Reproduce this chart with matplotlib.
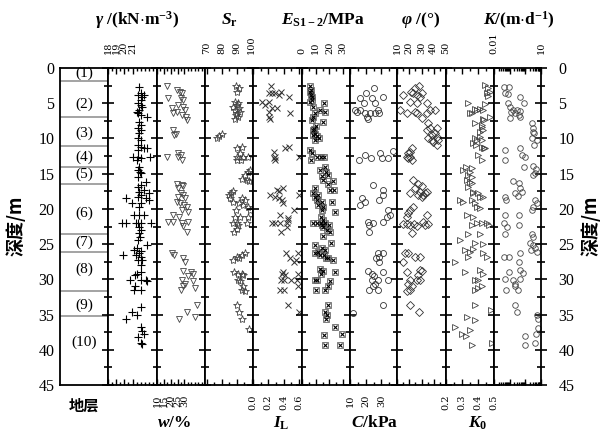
import numpy as np
import matplotlib
matplotlib.use("Agg")
import matplotlib.pyplot as plt
from matplotlib.ticker import FixedLocator, MultipleLocator, LogLocator, NullFormatter

plt.rcParams['font.family'] = ['Liberation Serif', 'DejaVu Serif']
plt.rcParams['mathtext.fontset'] = 'custom'
plt.rcParams['mathtext.rm'] = 'Liberation Serif:bold'
plt.rcParams['mathtext.it'] = 'Liberation Serif:italic:bold'
plt.rcParams['mathtext.bf'] = 'Liberation Serif:bold'

# ---- data (depth in m) ----
layer_names = ['(1)', '(2)', '(3)', '(4)', '(5)', '(6)', '(7)', '(8)', '(9)', '(10)']
layer_label_depth = [0.8, 5.2, 9.2, 12.6, 15.1, 20.6, 24.8, 28.6, 33.7, 39.0]
layer_bounds = [1.8, 6.9, 11.1, 14.0, 16.4, 23.5, 26.1, 31.6, 35.2]

gamma_d = [2.65, 3.6, 3.84, 3.84, 4.07, 4.54, 5.02, 5.25, 5.49, 5.96, 6.2, 6.44, 6.67, 6.91, 7.62, 8.1,
           8.57, 8.8, 9.27, 9.98, 10.22, 10.93, 11.17, 11.4, 11.4, 11.64, 12.59, 12.59, 12.82, 12.59,
           13.06, 14.0, 14.48, 14.71, 14.95, 15.42, 16.13, 16.6, 16.84, 17.32, 17.55, 18.0, 17.79,
           18.26, 18.5, 18.5, 19.21, 19.21, 18.74, 19.68, 20.86, 20.86, 20.86, 22.05, 22.05, 22.05,
           22.05, 22.05, 22.05, 22.52, 23.0, 23.47, 24.0, 24.4, 25.1, 25.6, 25.8, 26.0, 26.2, 26.5,
           26.5, 26.8, 27.3, 27.3, 27.9, 29.0, 29.2, 29.4, 30.1, 30.1, 30.1, 30.3, 31.0, 31.5, 31.5,
           33.9, 34.6, 35.1, 35.7, 36.8, 37.3, 37.7, 38.2, 39.0, 39.2]
gamma_v = [21.8, 22.0, 22.4, 21.67, 22.2, 22.0, 21.67, 22.0, 22.2, 21.8, 21.5, 21.67, 22.0, 22.75, 21.8,
           22.0, 21.67, 22.0, 21.8, 21.67, 22.0, 21.67, 22.0, 22.4, 22.8, 21.67, 21.08, 21.67, 22.0,
           23.1, 21.5, 21.8, 21.67, 21.9, 22.1, 21.67, 22.6, 22.0, 21.67, 22.4, 21.8, 22.1, 23.0,
           21.67, 22.6, 20.25, 20.96, 22.0, 23.0, 21.8, 21.17, 21.8, 22.4, 19.7, 20.25, 21.4, 21.67,
           22.0, 23.25, 21.8, 22.0, 21.8, 21.9, 21.67, 22.8, 21.6, 21.17, 22.0, 21.8, 19.83, 21.4,
           22.0, 21.67, 22.2, 22.0, 22.0, 21.5, 21.3, 20.67, 22.0, 22.6, 22.8, 21.3, 21.17, 22.0,
           22.0, 20.9, 21.5, 20.25, 22.0, 22.2, 22.4, 21.67, 22.0, 22.2]

w_d = [2.5, 3.1, 3.4, 3.6, 4.3, 4.5, 4.3, 5.2, 5.5, 5.7, 6.0, 6.2, 6.4, 6.7, 6.9, 7.4, 8.8, 9.3, 9.5,
       12.0, 12.3, 12.6, 12.6, 13.1, 16.4, 16.6, 16.8, 17.1, 17.8, 18.0, 18.3, 18.5, 19.0, 19.2,
       19.5, 19.7, 20.2, 20.4, 20.9, 21.1, 21.9, 21.9, 22.0, 21.9, 22.4, 23.3, 26.3, 26.5, 27.0,
       27.5, 28.8, 29.0, 29.2, 29.5, 30.1, 30.3, 30.6, 31.0, 31.3, 31.5, 33.6, 34.6, 35.3, 35.7]
w_v = [17.1, 24.3, 26.8, 28.0, 27.3, 29.2, 18.3, 25.5, 29.2, 20.7, 30.4, 24.3, 21.9, 28.0, 31.1, 31.6,
       21.4, 23.8, 22.4, 25.5, 27.3, 17.1, 25.5, 28.0, 24.3, 28.0, 29.2, 25.5, 27.3, 29.2, 25.5,
       30.4, 24.3, 26.8, 29.7, 31.6, 28.0, 32.8, 21.9, 26.3, 18.3, 21.9, 28.0, 32.3, 29.2, 31.6,
       20.7, 22.4, 29.2, 30.4, 29.2, 34.6, 36.5, 32.8, 28.0, 36.0, 30.4, 29.2, 37.7, 27.3, 38.9,
       32.1, 37.7, 26.3]

sr_d = [2.6, 2.85, 3.4, 4.8, 5.0, 5.25, 5.5, 5.7, 6.0, 6.2, 6.4, 6.7, 6.9, 7.2, 9.3, 9.6, 9.9, 11.2,
        11.4, 12.1, 12.6, 12.6, 12.6, 13.1, 13.1, 14.5, 14.7, 15.2, 15.7, 15.9, 16.1, 17.5, 17.8,
        18.0, 18.5, 18.5, 18.7, 19.0, 19.2, 19.5, 19.7, 20.2, 20.2, 21.1, 21.1, 21.1, 22.0, 22.0,
        22.0, 22.3, 22.8, 23.3, 26.3, 26.5, 26.8, 27.3, 27.0, 28.9, 29.2, 29.2, 29.4, 30.1, 30.3,
        31.0, 31.5, 31.7, 33.7, 34.7, 35.7, 37.0]
sr_v = [89.7, 91.9, 90.6, 89.0, 91.2, 90.1, 87.9, 91.9, 89.0, 92.3, 90.6, 89.7, 91.2, 89.0, 80.1, 78.6,
        77.2, 93.4, 90.1, 92.3, 90.6, 94.1, 97.9, 90.1, 92.8, 99.0, 97.4, 95.7, 93.4, 96.8, 98.6,
        87.9, 86.1, 85.2, 85.7, 93.4, 95.7, 87.9, 91.9, 94.1, 97.9, 99.0, 89.7, 89.0, 92.3, 97.9,
        87.9, 90.1, 96.8, 91.2, 90.6, 88.6, 95.7, 93.4, 90.1, 87.9, 91.9, 88.6, 91.2, 93.4, 94.6,
        91.2, 92.3, 94.1, 93.4, 95.7, 90.1, 91.9, 93.4, 98.6]

il_d = [2.6, 3.4, 3.6, 3.6, 3.6, 3.8, 4.1, 4.8, 4.8, 5.2, 5.7, 5.7, 6.2, 6.4, 6.9, 7.2, 11.2, 11.4,
        11.9, 12.6, 12.8, 12.6, 13.1, 17.0, 17.3, 17.5, 18.0, 18.0, 18.3, 18.5, 18.7, 19.2, 20.2,
        20.9, 21.3, 21.6, 22.0, 22.0, 22.0, 22.0, 22.5, 23.3, 26.3, 26.3, 27.0, 27.3, 27.5, 29.0,
        29.2, 29.4, 29.2, 30.1, 30.1, 30.1, 30.1, 31.0, 31.5, 31.5, 33.7, 34.7]
il_v = [0.236, 0.36, 0.205, 0.249, 0.293, 0.338, 0.471, 0.116, 0.205, 0.16, 0.249, 0.316, 0.205, 0.484,
        0.205, 0.218, 0.471, 0.413, 0.271, 0.293, 0.28, 0.604, 0.293, 0.396, 0.307, 0.338, 0.227,
        0.604, 0.293, 0.338, 0.382, 0.396, 0.538, 0.351, 0.462, 0.458, 0.249, 0.293, 0.351, 0.449,
        0.449, 0.36, 0.427, 0.582, 0.484, 0.56, 0.538, 0.396, 0.382, 0.413, 0.582, 0.36, 0.404,
        0.493, 0.569, 0.582, 0.351, 0.404, 0.458, 0.604]

es_d = [2.6, 3.1, 3.4, 3.8, 4.1, 4.5, 4.8, 5.0, 5.5, 5.9, 6.2, 6.4, 6.9, 7.4, 7.6, 8.3, 8.6, 8.8, 9.3,
        9.5, 9.7, 9.9, 10.2, 11.6, 12.1, 12.6, 12.6, 12.6, 13.1, 14.0, 14.5, 14.7, 15.2, 15.4, 15.9,
        16.1, 16.4, 17.0, 17.3, 17.3, 17.8, 18.0, 18.3, 18.7, 19.0, 19.0, 19.5, 19.7, 20.2, 20.4,
        21.1, 21.6, 22.0, 22.0, 22.0, 22.0, 22.3, 22.5, 22.3, 23.0, 23.3, 23.8, 24.8, 25.1, 25.6,
        25.9, 26.1, 26.3, 26.5, 26.5, 27.0, 27.0, 27.3, 28.5, 28.8, 29.0, 29.2, 30.1, 30.1, 30.3,
        31.0, 31.5, 31.5, 33.7, 34.6, 35.1, 35.6, 36.8, 37.7, 37.9, 39.3, 39.3]
es_v = [5.8, 6.6, 5.8, 6.6, 7.1, 7.1, 5.8, 16.0, 8.3, 13.1, 16.8, 9.5, 8.3, 7.1, 15.1, 10.2, 8.8, 7.9,
        9.5, 8.3, 10.7, 12.6, 9.5, 5.8, 7.1, 10.7, 13.6, 16.0, 6.2, 16.8, 13.1, 17.5, 19.2, 14.3,
        15.6, 22.4, 19.2, 9.5, 20.4, 23.3, 8.3, 11.9, 9.5, 10.7, 14.3, 21.7, 11.9, 15.6, 14.3, 24.1,
        13.6, 15.6, 8.3, 10.7, 13.6, 16.8, 14.3, 15.6, 19.9, 18.0, 20.4, 15.1, 20.9, 9.5, 14.3,
        16.8, 11.9, 9.5, 13.1, 16.0, 17.5, 19.2, 22.9, 13.1, 15.1, 24.1, 13.6, 9.5, 11.2, 20.4,
        19.2, 10.2, 16.8, 19.2, 16.8, 18.0, 17.5, 24.1, 28.9, 16.0, 16.8, 27.7]

c_d = [2.85, 3.6, 4.1, 4.3, 4.3, 5.0, 5.0, 5.9, 5.9, 5.9, 6.2, 6.4, 6.4, 6.4, 6.4, 6.9, 7.3, 11.8,
       12.1, 12.4, 12.8, 12.8, 12.8, 13.1, 16.6, 17.3, 18.0, 18.5, 18.7, 19.0, 19.5, 20.2, 20.9,
       21.1, 21.8, 22.0, 21.8, 22.3, 23.3, 26.3, 26.3, 26.8, 27.0, 27.5, 28.8, 29.2, 29.0, 29.5,
       30.1, 30.1, 30.1, 30.6, 31.0, 31.5, 31.5, 33.7, 34.8]
c_v = [25.3, 20.2, 31.3, 16.4, 23.8, 19.0, 26.0, 13.2, 16.4, 28.1, 14.7, 19.6, 22.8, 26.0, 28.8, 20.7,
       21.7, 37.7, 29.1, 19.6, 23.2, 30.2, 34.4, 16.0, 24.5, 31.3, 31.3, 17.4, 28.8, 19.6, 16.4,
       34.4, 35.5, 33.4, 21.7, 24.9, 31.3, 22.3, 22.3, 28.1, 31.3, 28.8, 26.6, 28.8, 21.7, 23.8,
       31.3, 25.3, 23.8, 28.1, 34.0, 26.0, 24.5, 22.3, 28.1, 31.3, 12.1]

phi_d = [2.6, 2.85, 3.4, 3.6, 3.6, 3.8, 3.8, 4.1, 4.8, 5.0, 5.0, 5.9, 6.4, 6.2, 6.4, 7.1, 6.4, 5.9,
         5.9, 7.85, 8.56, 8.56, 8.8, 9.5, 9.27, 9.74, 9.98, 10.2, 10.2, 10.45, 10.92, 11.4, 11.87,
         12.1, 12.6, 12.8, 13.05, 12.6, 15.9, 16.5, 16.8, 17.1, 17.55, 17.8, 18.0, 18.0, 18.3, 17.8,
         17.55, 19.7, 20.15, 20.6, 21.1, 20.9, 22.1, 22.1, 22.3, 22.2, 22.4, 21.9, 22.3, 22.2, 23.4,
         26.3, 26.2, 27.5, 26.9, 26.9, 29.0, 30.1, 28.7, 29.4, 28.8, 30.6, 31.0, 31.6, 31.5, 30.1,
         30.1, 33.6, 34.7]
phi_v = [28.2, 24.7, 21.1, 23.3, 30.2, 15.2, 26.1, 28.8, 20.6, 34.8, 26.6, 12.4, 17.9, 24.7, 26.1,
         30.2, 34.2, 36.9, 41.0, 35.6, 36.9, 42.4, 34.2, 38.3, 41.0, 42.4, 35.6, 38.3, 43.7, 39.6,
         42.4, 22.0, 20.6, 19.3, 20.6, 19.3, 22.0, 17.9, 23.3, 27.4, 30.2, 24.7, 28.8, 20.6, 27.4,
         31.5, 30.2, 32.9, 34.2, 23.3, 20.6, 19.3, 17.9, 34.2, 14.5, 17.9, 21.0, 23.5, 26.1, 31.5,
         32.9, 35.6, 22.0, 16.5, 19.3, 15.2, 24.7, 28.8, 17.9, 20.6, 28.8, 27.4, 30.2, 19.3, 22.0,
         17.9, 20.6, 26.1, 28.8, 20.6, 28.0]

k0_d = [2.4, 2.88, 3.36, 3.6, 3.97, 5.1, 5.96, 6.9, 7.38, 8.1, 8.8, 10.2, 11.4, 18.3, 5.01, 5.86,
        6.33, 5.96, 6.43, 5.86, 7.28, 7.85, 8.32, 9.03, 10.2, 9.98, 9.74, 10.69, 10.92, 11.4, 11.25,
        12.34, 13.05, 14.0, 14.24, 14.47, 14.7, 15.18, 15.42, 15.89, 16.13, 16.36, 16.84, 17.55,
        17.78, 17.78, 18.26, 18.73, 18.97, 18.73, 19.2, 19.67, 19.9, 20.86, 21.1, 22.28, 22.04,
        22.04, 22.04, 22.3, 23.5, 23.5, 24.4, 24.9, 25.0, 25.8, 26.1, 25.7, 26.8, 26.3, 26.8, 27.5,
        28.9, 28.7, 29.2, 30.1, 30.1, 31.0, 31.5, 31.3, 33.6, 35.3, 35.8, 36.8, 37.2, 37.7, 38.1,
        39.3, 34.4, 39.1]
k0_v = [0.444, 0.465, 0.475, 0.454, 0.465, 0.444, 0.433, 0.475, 0.437, 0.423, 0.433, 0.423, 0.4375,
        0.433, 0.34, 0.381, 0.36, 0.392, 0.35, 0.4125, 0.433, 0.381, 0.423, 0.4125, 0.392, 0.381,
        0.4125, 0.371, 0.3875, 0.444, 0.423, 0.402, 0.423, 0.325, 0.36, 0.308, 0.35, 0.34, 0.36,
        0.329, 0.35, 0.36, 0.34, 0.367, 0.371, 0.402, 0.4125, 0.2875, 0.308, 0.36, 0.381, 0.392,
        0.4125, 0.329, 0.371, 0.36, 0.392, 0.423, 0.454, 0.47, 0.34, 0.4125, 0.29, 0.381, 0.433,
        0.319, 0.35, 0.371, 0.34, 0.433, 0.454, 0.256, 0.319, 0.4125, 0.433, 0.381, 0.402, 0.423,
        0.381, 0.402, 0.381, 0.329, 0.381, 0.256, 0.35, 0.298, 0.325, 0.36, 0.48, 0.485]

k_d = [2.74, 2.65, 3.6, 3.7, 4.07, 4.9, 5.0, 5.5, 5.9, 5.96, 6.05, 6.3, 6.43, 6.67, 7.1, 6.9, 7.85,
       8.56, 9.03, 9.27, 9.98, 10.2, 10.92, 11.7, 11.4, 12.34, 12.58, 13.05, 14.0, 13.9, 14.4, 14.95,
       15.2, 16.0, 16.36, 17.07, 17.7, 17.55, 18.2, 18.26, 18.7, 18.7, 19.2, 19.67, 20.15, 20.9,
       20.9, 22.04, 22.3, 22.5, 23.5, 23.5, 24.0, 24.9, 25.1, 25.8, 25.6, 26.1, 26.3, 26.9, 26.9,
       27.5, 28.9, 28.7, 29.1, 30.0, 30.1, 30.0, 30.6, 31.0, 31.5, 31.5, 33.6, 34.7, 35.1, 35.7,
       36.9, 37.7, 38.1, 39.1, 39.3]
k_v = [0.042, 0.095, 0.048, 0.079, 0.46, 0.079, 0.81, 0.105, 0.17, 0.31, 0.46, 0.115, 0.22, 0.42,
       0.105, 0.46, 2.5, 3.2, 2.95, 3.5, 2.5, 5.2, 3.5, 0.048, 0.46, 0.58, 0.93, 0.048, 0.81, 3.2,
       4.8, 4.2, 2.95, 0.17, 0.42, 0.46, 0.22, 0.58, 0.35, 0.048, 0.055, 4.2, 5.2, 2.95, 2.5, 0.048,
       0.42, 0.042, 0.42, 0.065, 0.048, 2.5, 2.95, 2.0, 3.2, 2.2, 4.2, 5.2, 0.46, 0.042, 0.095,
       0.42, 0.095, 0.46, 0.68, 0.048, 0.17, 0.46, 0.22, 0.22, 0.055, 0.35, 0.22, 0.28, 5.2, 6.8,
       6.8, 4.8, 0.93, 4.2, 0.93]

# ---- layout (pixels) ----
W, H = 607, 437
edges = [60, 108, 157, 205, 253, 302, 350, 397, 446, 494, 541]
ytop, ybot = 68, 385

# column: data, xlim, labelled ticks, tick labels, minor step, label side, marker style
cols = [
    dict(d=gamma_d, v=gamma_v, lim=(18, 24), ticks=[18, 19, 20, 21], labels=['18', '19', '20', '21'],
         minor=0.5, side='top', mk=dict(marker='+', ms=5.5, mew=0.8, color='k')),
    dict(d=w_d, v=w_v, lim=(10, 45), ticks=[10, 15, 20, 25, 30], labels=['10', '15', '20', '25', '30'],
         minor=2.5, side='bottom', mk=dict(marker='v', ms=4.5, mew=0.6, mfc='none', mec='#444')),
    dict(d=sr_d, v=sr_v, lim=(69, 101), ticks=[70, 80, 90, 100], labels=['70', '80', '90', '100'],
         minor=5, side='top', mk=dict(marker='*', ms=6, mew=0.6, mfc='none', mec='#444')),
    dict(d=il_d, v=il_v, lim=(0, 0.64), ticks=[0, 0.2, 0.4, 0.6], labels=['0.0', '0.2', '0.4', '0.6'],
         minor=0.1, side='bottom', mk=dict(marker='x', ms=4.2, mew=0.7, color='#333')),
    dict(d=es_d, v=es_v, lim=(0, 35), ticks=[0, 10, 20, 30], labels=['0', '10', '20', '30'],
         minor=5, side='top', mk=dict(marker='s', ms=4.2, mew=0.6, mfc='none', mec='#666')),
    dict(d=c_d, v=c_v, lim=(10, 40), ticks=[10, 20, 30], labels=['10', '20', '30'],
         minor=5, side='bottom', mk=dict(marker='o', ms=4.3, mew=0.6, mfc='none', mec='#333')),
    dict(d=phi_d, v=phi_v, lim=(10, 50), ticks=[10, 20, 30, 40, 50], labels=['10', '20', '30', '40', '50'],
         minor=5, side='top', mk=dict(marker='D', ms=3.6, mew=0.6, mfc='none', mec='#333')),
    dict(d=k0_d, v=k0_v, lim=(0.2, 0.5), ticks=[0.2, 0.3, 0.4, 0.5], labels=['0.2', '0.3', '0.4', '0.5'],
         minor=0.05, side='bottom', mk=dict(marker='>', ms=4.2, mew=0.6, mfc='none', mec='#444')),
    dict(d=k_d, v=k_v, lim=(0.01, 10), ticks=[0.01, 0.1, 1, 10], labels=['0.01', '', '', '10'],
         minor=None, side='top', mk=dict(marker='o', ms=4.0, mew=0.6, mfc='none', mec='#444')),
]

top_titles = [(137, r'$\gamma$ /(kN$\cdot$m$^{-3}$)'), (229, r'$S_{\mathrm{r}}$'),
              (323, r'$E_{\mathrm{S1-2}}$/MPa'), (421, r'$\varphi$ /(°)'),
              (519, r'$K$/(m$\cdot$d$^{-1}$)')]
bottom_titles = [(174, r'$w$/%'), (281, r'$I_{\mathrm{L}}$'), (375, r'$C$/kPa'), (478, r'$K_0$')]

fig = plt.figure(figsize=(W / 100, H / 100), dpi=100)


def box(i):
    return [edges[i] / W, 1 - ybot / H, (edges[i + 1] - edges[i]) / W, (ybot - ytop) / H]


def depth_axis(ax):
    ax.set_ylim(45, 0)
    ax.yaxis.set_major_locator(MultipleLocator(5))
    ax.yaxis.set_minor_locator(FixedLocator(np.arange(2.5, 45, 5)))
    for s in ax.spines.values():
        s.set_linewidth(1.3)


# layer column
ax0 = fig.add_axes(box(0))
depth_axis(ax0)
ax0.set_xlim(0, 1)
ax0.set_xticks([])
ax0.tick_params(axis='y', which='both', left=True, length=0, labelleft=True, labelsize=11.5, pad=4)
ax0.yaxis.set_minor_formatter(NullFormatter())
ax0.hlines(layer_bounds, 0, 1, color='#8a8a8a', lw=1.1)
for name, d in zip(layer_names, layer_label_depth):
    ax0.text(0.5, d, name, ha='center', va='center', fontsize=11)

for i, c in enumerate(cols):
    ax = fig.add_axes(box(i + 1))
    depth_axis(ax)
    ax.plot(c['v'], c['d'], ls='none', clip_on=False, **c['mk'])
    if c['mk']['marker'] == 's':
        ax.plot(c['v'], c['d'], ls='none', marker='x', ms=3.2, mew=0.8, color='k')
    if c['minor'] is None:
        ax.set_xscale('log')
        ax.xaxis.set_minor_locator(LogLocator(base=10, subs=np.arange(2, 10)))
        ax.xaxis.set_minor_formatter(NullFormatter())
    else:
        ax.xaxis.set_minor_locator(MultipleLocator(c['minor']))
    ax.set_xlim(*c['lim'])
    ax.set_xticks(c['ticks'], c['labels'], fontfamily='DejaVu Serif', fontsize=7)
    top = c['side'] == 'top'
    ax.tick_params(axis='x', which='both', direction='in', top=True, bottom=True,
                   labeltop=top, labelbottom=not top, labelrotation=90,
                   pad=10 if top else 7, width=1.0)
    ax.tick_params(axis='x', which='major', length=4)
    ax.tick_params(axis='x', which='minor', length=2.5)
    ax.tick_params(axis='y', which='both', direction='inout', left=True, labelleft=False, width=1.2)
    ax.tick_params(axis='y', which='major', length=9)
    ax.tick_params(axis='y', which='minor', length=6)
    if i == len(cols) - 1:
        ax.tick_params(axis='y', which='both', right=True, labelright=True, labelsize=11.5, pad=8)
        ax.yaxis.set_minor_formatter(NullFormatter())

for x, t in top_titles:
    fig.text(x / W, 1 - 20 / H, t, ha='center', va='center', fontsize=12.5, fontweight='bold')
for x, t in bottom_titles:
    fig.text(x / W, 1 - 423 / H, t, ha='center', va='center', fontsize=12.5, fontweight='bold')

cjk = ['Noto Sans CJK SC', 'DejaVu Sans']
fig.text(84 / W, 1 - 406 / H, '地层', ha='center', va='center', fontsize=11, fontweight='bold', family=cjk)
fig.text(16 / W, 1 - 226 / H, '深度/m', ha='center', va='center', rotation=90, fontsize=13,
         fontweight='bold', family=cjk)
fig.text(591 / W, 1 - 226 / H, '深度/m', ha='center', va='center', rotation=90, fontsize=13,
         fontweight='bold', family=cjk)

fig.savefig('out.png', dpi=100)
